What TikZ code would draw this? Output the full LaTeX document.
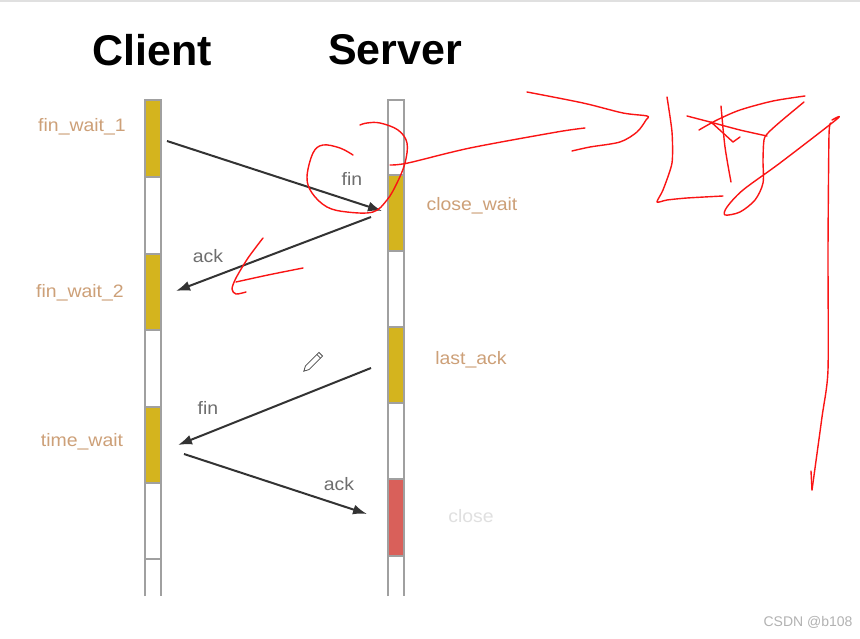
\documentclass[tikz,border=0pt]{standalone}
\usepackage{fontspec}
\setmainfont{Liberation Sans}
\usetikzlibrary{arrows.meta}
\definecolor{segyel}{RGB}{212,180,30}
\definecolor{segred}{RGB}{217,96,90}
\definecolor{segbd}{RGB}{160,160,160}
\definecolor{statecol}{RGB}{205,160,120}
\definecolor{msgcol}{RGB}{110,110,110}
\definecolor{inkred}{RGB}{250,20,20}
\tikzset{
  seg/.style={draw=segbd, line width=2pt},
  title/.style={font=\fontsize{43}{43}\selectfont\bfseries, text=black},
  state/.style={font=\fontsize{18}{18}\selectfont, text=statecol, xscale=1.08},
  msglbl/.style={font=\fontsize{18}{18}\selectfont, text=msgcol, xscale=1.08},
  msg/.style={draw=black!80, line width=2pt, -{Latex[length=14pt,width=10pt]}},
  ink/.style={draw=inkred, line width=1.4pt, line cap=round, line join=round},
}
\begin{document}
\begin{tikzpicture}[x=1pt,y=-1pt]
\useasboundingbox (0,0) rectangle (860,639);
\fill[white] (0,0) rectangle (860,639);
\draw[black!12, line width=1.5pt] (0,1) -- (860,1);
% titles
\node[title] (client) at (152,50) {Client};
\node[title] (server) at (395,50) {Server};
% client lifeline
\foreach \a/\b/\c in {100/177/segyel,177/254/white,254/330/segyel,330/407/white,407/483/segyel,483/559/white}
  \draw[seg, fill=\c] (145,\a) rectangle (161,\b);
\draw[seg] (145,596) -- (145,559) -- (161,559) -- (161,596);
% server lifeline
\foreach \a/\b/\c in {100/175/white,175/251/segyel,251/327/white,327/403/segyel,403/479/white,479/556/segred}
  \draw[seg, fill=\c] (388,\a) rectangle (404,\b);
\draw[seg] (388,596) -- (388,556) -- (404,556) -- (404,596);
% state labels
\node[state] (fw1) at (82,127) {fin\_wait\_1};
\node[state] (fw2) at (80,293) {fin\_wait\_2};
\node[state] (tw) at (82,442) {time\_wait};
\node[state] (cw) at (472,206) {close\_wait};
\node[state] (la) at (471,360) {last\_ack};
\node[state, text=black!12] (cl) at (471,516) {close};
% messages
\coordinate (m1s) at (167,141); \coordinate (m1e) at (382,211);
\coordinate (m2s) at (371,217); \coordinate (m2e) at (176,291);
\coordinate (m3s) at (371,368); \coordinate (m3e) at (178,445);
\coordinate (m4s) at (184,454); \coordinate (m4e) at (367,514);
\draw[msg] (m1s) -- (m1e);
\draw[msg] (m2s) -- (m2e);
\draw[msg] (m3s) -- (m3e);
\draw[msg] (m4s) -- (m4e);
\node[msglbl] (l1) at (352,179) {fin};
\node[msglbl] (l2) at (208,256) {ack};
\node[msglbl] (l3) at (208,408) {fin};
\node[msglbl] (l4) at (339,484) {ack};
% pencil cursor
\begin{scope}[shift={(313,362)}, rotate=45]
  \draw[black!70, line width=0.8pt, fill=white] (-13,0) -- (-8,-2.6) -- (11,-2.6) -- (11,2.6) -- (-8,2.6) -- cycle;
  \draw[black!70, line width=0.8pt] (8,-2.6) -- (8,2.6);
\end{scope}
% red hand annotations
\draw[ink] plot[smooth, tension=0.6] coordinates {(353,155) (340,148) (323,145) (313,153) (307,177) (312,193) (327,207) (347,212) (373,212) (387,200) (397,183) (405,163) (407,143) (398,130) (380,123) (367,123) (360,125)};
\draw[ink] plot[smooth, tension=0.5] coordinates {(390,165) (408,163) (470,148) (557,132) (585,128)};
\draw[ink] plot[smooth, tension=0.5] coordinates {(527,92) (583,103) (623,113) (647,116) (646,120) (637,132) (620,142) (590,147) (572,151)};
\draw[ink] plot[smooth, tension=0.4] coordinates {(667,97) (672,132) (672,163) (663,190) (657,202) (667,200) (687,198) (723,196)};
\draw[ink] plot[smooth, tension=0.5] coordinates {(687,116) (710,122) (740,130) (767,136)};
\draw[ink] plot[smooth, tension=0.5] coordinates {(721,106) (725,147) (731,182)};
\draw[ink] (711,122) -- (733,142) -- (740,137);
\draw[ink] plot[smooth, tension=0.5] coordinates {(699,130) (717,120) (740,110) (773,101) (805,96)};
\draw[ink] plot[smooth, tension=0.5] coordinates {(804,102) (780,122) (768,133) (764,140) (763,160) (763,183) (755,200) (740,212) (725,215) (727,207) (743,190) (780,163) (837,119) (832,120)};
\draw[ink] plot[smooth, tension=0.4] coordinates {(831,123) (829,135) (828,250) (828,370) (822,417) (812,490)};
\draw[ink] (811,471) -- (812,490);
\draw[ink] plot[smooth, tension=0.5] coordinates {(263,238) (248,258) (236,278) (232,289) (236,294) (246,292)};
\draw[ink] plot[smooth, tension=0.5] coordinates {(236,282) (268,275) (303,268)};
% watermark
\node[font=\fontsize{14}{14}\selectfont, text=black!30, anchor=east] (wm) at (856,622) {CSDN @b108};
\end{tikzpicture}
\end{document}
